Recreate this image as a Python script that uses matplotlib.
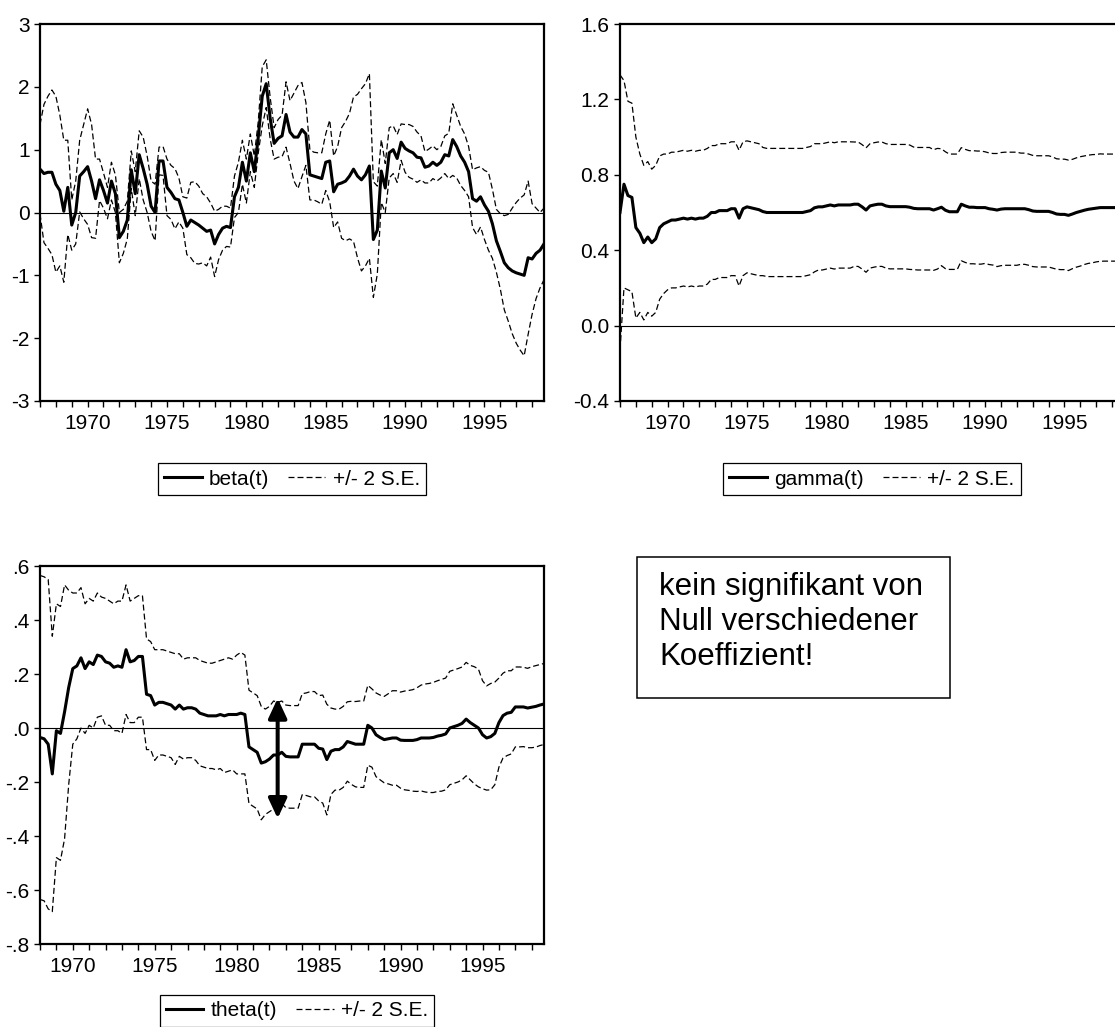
import numpy as np
import pandas as pd
import matplotlib
matplotlib.use("Agg")
import matplotlib.pyplot as plt
from matplotlib.lines import Line2D
from matplotlib.patches import Rectangle

plt.rcParams['font.family'] = ['Liberation Sans', 'DejaVu Sans']
plt.rcParams['lines.scale_dashes'] = False

# quarterly recursive estimates
quarters_top = pd.period_range('1967Q1', '1998Q4', freq='Q')
quarters_bottom = pd.period_range('1968Q1', '1998Q4', freq='Q')

beta = [0.69, 0.62, 0.64, 0.64, 0.45, 0.35, 0.02, 0.40, -0.20, 0.00,
        0.58, 0.65, 0.73, 0.50, 0.22, 0.52, 0.35, 0.15, 0.50, 0.30,
        -0.40, -0.30, -0.12, 0.68, 0.30, 0.92, 0.70, 0.45, 0.10, 0.00,
        0.82, 0.82, 0.40, 0.32, 0.22, 0.20, 0.00, -0.22, -0.12, -0.16,
        -0.20, -0.25, -0.30, -0.28, -0.50, -0.35, -0.25, -0.22, -0.24, 0.25,
        0.40, 0.80, 0.50, 0.95, 0.65, 1.20, 1.85, 2.05, 1.50, 1.10,
        1.18, 1.22, 1.56, 1.28, 1.20, 1.20, 1.32, 1.25, 0.60, 0.58,
        0.56, 0.54, 0.80, 0.82, 0.33, 0.45, 0.47, 0.50, 0.58, 0.69,
        0.58, 0.52, 0.60, 0.74, -0.43, -0.28, 0.66, 0.39, 0.95, 1.00,
        0.86, 1.12, 1.02, 0.98, 0.95, 0.88, 0.87, 0.72, 0.74, 0.80,
        0.75, 0.80, 0.92, 0.90, 1.16, 1.05, 0.90, 0.80, 0.65, 0.22,
        0.18, 0.25, 0.12, 0.02, -0.18, -0.45, -0.62, -0.80, -0.88, -0.93,
        -0.96, -0.98, -1.00, -0.72, -0.74, -0.65, -0.60, -0.50]
beta_2se = [0.71, 1.10, 1.21, 1.31, 1.40, 1.20, 1.13, 0.75, 0.40, 0.50,
            0.57, 0.75, 0.92, 0.90, 0.63, 0.33, 0.28, 0.25, 0.30, 0.30,
            0.40, 0.35, 0.30, 0.30, 0.35, 0.38, 0.50, 0.45, 0.40, 0.45,
            0.22, 0.23, 0.45, 0.43, 0.48, 0.35, 0.25, 0.45, 0.60, 0.65,
            0.62, 0.55, 0.55, 0.43, 0.52, 0.40, 0.35, 0.32, 0.31, 0.33,
            0.40, 0.35, 0.35, 0.30, 0.25, 0.25, 0.47, 0.38, 0.33, 0.25,
            0.30, 0.33, 0.52, 0.50, 0.70, 0.82, 0.75, 0.50, 0.40, 0.38,
            0.39, 0.41, 0.45, 0.65, 0.57, 0.60, 0.88, 0.95, 1.00, 1.15,
            1.30, 1.45, 1.45, 1.47, 0.92, 0.70, 0.50, 0.39, 0.40, 0.38,
            0.38, 0.29, 0.38, 0.42, 0.42, 0.40, 0.35, 0.25, 0.27, 0.26,
            0.25, 0.25, 0.30, 0.36, 0.57, 0.50, 0.47, 0.45, 0.40, 0.46,
            0.53, 0.48, 0.55, 0.62, 0.55, 0.50, 0.60, 0.75, 0.85, 1.00,
            1.12, 1.21, 1.28, 1.22, 0.88, 0.72, 0.60, 0.57]

gamma = [0.60, 0.75, 0.69, 0.68, 0.52, 0.49, 0.44, 0.47, 0.44, 0.46,
         0.52, 0.54, 0.55, 0.56, 0.56, 0.565, 0.57, 0.565, 0.57, 0.565,
         0.57, 0.57, 0.58, 0.60, 0.60, 0.61, 0.61, 0.61, 0.62, 0.62,
         0.57, 0.62, 0.63, 0.625, 0.62, 0.615, 0.605, 0.60, 0.60, 0.60,
         0.60, 0.60, 0.60, 0.60, 0.60, 0.60, 0.60, 0.605, 0.61, 0.625,
         0.63, 0.63, 0.635, 0.64, 0.635, 0.64, 0.64, 0.64, 0.64, 0.644,
         0.644, 0.63, 0.613, 0.635, 0.64, 0.644, 0.644, 0.635, 0.631, 0.631,
         0.631, 0.631, 0.631, 0.628, 0.622, 0.62, 0.62, 0.62, 0.62, 0.613,
         0.62, 0.628, 0.612, 0.604, 0.604, 0.604, 0.644, 0.635, 0.628, 0.628,
         0.626, 0.626, 0.626, 0.62, 0.617, 0.613, 0.618, 0.62, 0.62, 0.62,
         0.62, 0.62, 0.62, 0.615, 0.608, 0.606, 0.606, 0.606, 0.606, 0.60,
         0.592, 0.59, 0.59, 0.585, 0.592, 0.60, 0.606, 0.612, 0.617, 0.62,
         0.623, 0.626, 0.626, 0.626, 0.626, 0.626, 0.626, 0.626]
gamma_2se = [0.73, 0.55, 0.50, 0.50, 0.48, 0.42, 0.41, 0.40, 0.39, 0.39,
             0.38, 0.37, 0.36, 0.36, 0.36, 0.36, 0.36, 0.36, 0.36, 0.36,
             0.36, 0.36, 0.36, 0.355, 0.355, 0.355, 0.355, 0.355, 0.355, 0.355,
             0.36, 0.355, 0.35, 0.35, 0.35, 0.35, 0.34, 0.34, 0.34, 0.34,
             0.34, 0.34, 0.34, 0.34, 0.34, 0.34, 0.34, 0.34, 0.34, 0.34,
             0.335, 0.335, 0.335, 0.335, 0.335, 0.335, 0.335, 0.335, 0.335, 0.33,
             0.33, 0.33, 0.33, 0.33, 0.33, 0.33, 0.33, 0.33, 0.33, 0.33,
             0.33, 0.33, 0.33, 0.33, 0.325, 0.325, 0.325, 0.325, 0.325, 0.32,
             0.32, 0.31, 0.31, 0.306, 0.306, 0.306, 0.30, 0.30, 0.30, 0.30,
             0.30, 0.30, 0.296, 0.296, 0.296, 0.30, 0.30, 0.30, 0.30, 0.30,
             0.30, 0.295, 0.295, 0.295, 0.295, 0.295, 0.295, 0.295, 0.295, 0.295,
             0.293, 0.293, 0.293, 0.293, 0.29, 0.29, 0.29, 0.288, 0.287, 0.287,
             0.285, 0.285, 0.284, 0.284, 0.284, 0.284, 0.284, 0.284]

theta = [-0.035, -0.04, -0.06, -0.17, -0.01, -0.02, 0.06, 0.15, 0.22, 0.23,
         0.26, 0.22, 0.245, 0.235, 0.27, 0.265, 0.245, 0.24, 0.225, 0.23,
         0.225, 0.29, 0.245, 0.25, 0.265, 0.265, 0.125, 0.12, 0.085, 0.095,
         0.095, 0.09, 0.085, 0.07, 0.085, 0.07, 0.075, 0.075, 0.07, 0.055,
         0.05, 0.045, 0.045, 0.045, 0.05, 0.045, 0.05, 0.05, 0.05, 0.055,
         0.05, -0.07, -0.08, -0.09, -0.13, -0.125, -0.115, -0.10, -0.10, -0.09,
         -0.105, -0.107, -0.107, -0.107, -0.06, -0.06, -0.06, -0.06, -0.075, -0.078,
         -0.117, -0.086, -0.08, -0.08, -0.07, -0.05, -0.055, -0.06, -0.06, -0.06,
         0.01, 0.0, -0.025, -0.035, -0.043, -0.04, -0.037, -0.037, -0.045, -0.046,
         -0.046, -0.046, -0.043, -0.037, -0.037, -0.037, -0.035, -0.03, -0.027, -0.022,
         0.0, 0.005, 0.01, 0.017, 0.033, 0.02, 0.01, 0.0, -0.025, -0.037,
         -0.032, -0.02, 0.02, 0.046, 0.055, 0.058, 0.078, 0.078, 0.078, 0.074,
         0.077, 0.08, 0.085, 0.089]
theta_2se = [0.60, 0.60, 0.61, 0.51, 0.47, 0.47, 0.47, 0.36, 0.28, 0.27,
             0.26, 0.24, 0.235, 0.235, 0.23, 0.22, 0.235, 0.23, 0.235, 0.24,
             0.245, 0.24, 0.225, 0.23, 0.225, 0.225, 0.205, 0.20, 0.205, 0.195,
             0.195, 0.195, 0.195, 0.205, 0.19, 0.185, 0.185, 0.185, 0.19, 0.195,
             0.195, 0.195, 0.195, 0.20, 0.20, 0.21, 0.21, 0.205, 0.22, 0.225,
             0.22, 0.21, 0.21, 0.21, 0.21, 0.195, 0.195, 0.20, 0.195, 0.19,
             0.19, 0.19, 0.19, 0.19, 0.187, 0.19, 0.195, 0.195, 0.195, 0.20,
             0.205, 0.16, 0.15, 0.15, 0.15, 0.147, 0.154, 0.158, 0.16, 0.16,
             0.148, 0.145, 0.155, 0.157, 0.16, 0.167, 0.175, 0.175, 0.178, 0.183,
             0.185, 0.188, 0.192, 0.196, 0.20, 0.202, 0.204, 0.205, 0.207, 0.207,
             0.21, 0.21, 0.21, 0.209, 0.21, 0.212, 0.217, 0.218, 0.20, 0.193,
             0.197, 0.19, 0.165, 0.157, 0.157, 0.154, 0.148, 0.148, 0.147, 0.147,
             0.15, 0.151, 0.15, 0.15]

beta_ticks = [-3, -2, -1, 0, 1, 2, 3]
beta_labels = ['-3', '-2', '-1', '0', '1', '2', '3']
gamma_ticks = [-0.4, 0.0, 0.4, 0.8, 1.2, 1.6]
gamma_labels = ['-0.4', '0.0', '0.4', '0.8', '1.2', '1.6']
theta_ticks = [-0.8, -0.6, -0.4, -0.2, 0.0, 0.2, 0.4, 0.6]
theta_labels = ['-.8', '-.6', '-.4', '-.2', '.0', '.2', '.4', '.6']
year_labels = [1970, 1975, 1980, 1985, 1990, 1995]

note = "kein signifikant von\nNull verschiedener\nKoeffizient!"

W, H = 1115, 1027
DASH = (0, (4.3, 2.2))
fig = plt.figure(figsize=(W / 100, H / 100), dpi=100)


def px_axes(x0, y0, x1, y1):
    return fig.add_axes([x0 / W, 1 - y1 / H, (x1 - x0) / W, (y1 - y0) / H])


def decimal_year(periods):
    return np.asarray(periods.year + (periods.quarter - 1) / 4.0, dtype=float)


def panel(ax, periods, coef, band, name, ylim, yticks, ylabels, leg_xy):
    t = decimal_year(periods)
    coef = np.array(coef)
    band = np.array(band)
    ax.axhline(0, color='black', lw=0.8, zorder=1)
    ax.plot(t, coef + band, color='black', lw=0.9, ls=DASH, zorder=2)
    ax.plot(t, coef - band, color='black', lw=0.9, ls=DASH, zorder=2)
    ax.plot(t, coef, color='black', lw=2.2, zorder=3)
    ax.set_xlim(t[0], t[-1])
    ax.set_ylim(ylim)
    ax.set_yticks(yticks)
    ax.set_yticklabels(ylabels)
    ax.set_xticks(year_labels)
    ax.set_xticks(range(int(t[0]), int(t[-1]) + 1), minor=True)
    ax.tick_params(axis='x', which='both', direction='out', length=4.5,
                   width=1, labelsize=15, pad=5)
    ax.tick_params(axis='y', direction='out', length=4.5, width=1,
                   labelsize=15, pad=3)
    for s in ax.spines.values():
        s.set_linewidth(1.6)
    handles = [Line2D([], [], color='black', lw=2.2),
               Line2D([], [], color='black', lw=0.9, ls=DASH)]
    leg = ax.legend(handles, [name, '+/- 2 S.E.'], loc='center',
                    bbox_to_anchor=(leg_xy[0] / W, 1 - leg_xy[1] / H),
                    bbox_transform=fig.transFigure, ncol=2, fontsize=15,
                    frameon=True, fancybox=False, edgecolor='black',
                    framealpha=1, handlelength=1.8, handletextpad=0.35,
                    columnspacing=0.9, borderpad=0.3)
    leg.get_frame().set_linewidth(0.9)


ax1 = px_axes(40, 24, 544, 401)
panel(ax1, quarters_top, beta, beta_2se, 'beta(t)', (-3, 3),
      beta_ticks, beta_labels, (292, 479))

ax2 = px_axes(620, 24, 1124, 401)
panel(ax2, quarters_top, gamma, gamma_2se, 'gamma(t)', (-0.4, 1.6),
      gamma_ticks, gamma_labels, (872, 479))

ax3 = px_axes(40, 566, 544, 944)
panel(ax3, quarters_bottom, theta, theta_2se, 'theta(t)', (-0.8, 0.6),
      theta_ticks, theta_labels, (297, 1011))

# arrow marking the confidence band around 1982
ax3.annotate('', xy=(1982.5, 0.11), xytext=(1982.5, -0.335),
             arrowprops=dict(arrowstyle='<|-|>,head_length=0.6,head_width=0.28',
                             lw=2.9, color='black', shrinkA=0, shrinkB=0,
                             mutation_scale=20))

fig.patches.append(Rectangle((637 / W, 1 - 698 / H), 313 / W, 141 / H,
                             transform=fig.transFigure, fill=False,
                             edgecolor='black', lw=1.1))
fig.text(659 / W, 1 - 572 / H, note, fontsize=22.5, va='top', ha='left',
         linespacing=1.22)

fig.savefig('out.png', dpi=100)
